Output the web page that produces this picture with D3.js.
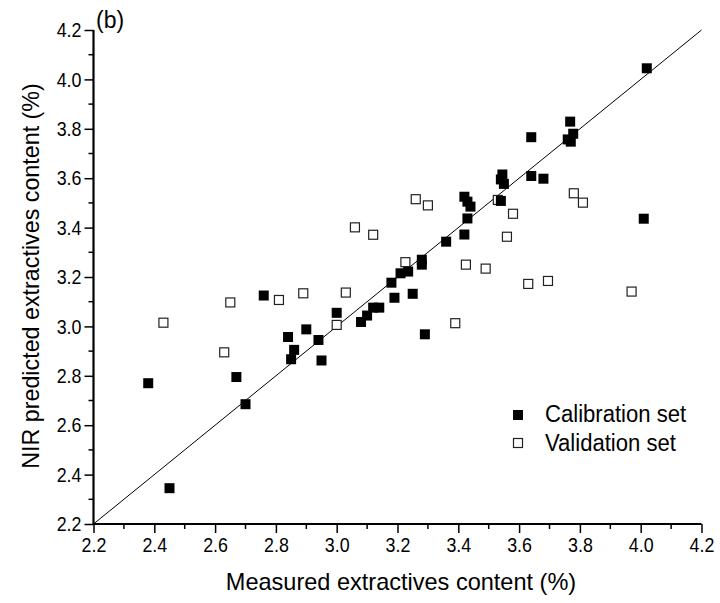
<!DOCTYPE html>
<html><head><meta charset="utf-8">
<script src="https://cdn.jsdelivr.net/npm/d3@7"></script>
<style>
body{margin:0;background:#fff;}
text{font-family:"Liberation Sans",Arial,sans-serif;fill:#000;}
</style></head><body>
<svg id="c" width="720" height="603"></svg>
<script>
const xTicks = [2.2,2.4,2.6,2.8,3.0,3.2,3.4,3.6,3.8,4.0,4.2];
const yTicks = [2.2,2.4,2.6,2.8,3.0,3.2,3.4,3.6,3.8,4.0,4.2];
const calibMeasured = [2.38,2.45,2.67,2.70,2.76,2.84,2.86,2.85,2.90,2.94,2.95,3.00,3.08,3.10,3.12,3.14,3.19,3.18,3.21,3.235,3.25,3.28,3.28,3.29,3.36,3.42,3.43,3.42,3.43,3.44,3.54,3.545,3.54,3.55,3.64,3.64,3.68,3.76,3.77,3.768,3.778,4.02,4.01];
const calibPredicted = [2.77,2.345,2.795,2.685,3.125,2.957,2.905,2.867,2.988,2.945,2.862,3.055,3.018,3.044,3.076,3.076,3.116,3.177,3.215,3.222,3.132,3.27,3.25,2.968,3.343,3.372,3.437,3.525,3.505,3.485,3.508,3.615,3.595,3.577,3.766,3.609,3.598,3.757,3.748,3.829,3.780,4.045,3.436];
const validMeasured = [2.43,2.63,2.65,2.81,2.89,3.00,3.03,3.06,3.12,3.226,3.26,3.30,3.39,3.425,3.49,3.53,3.56,3.58,3.63,3.695,3.78,3.81,3.97];
const validPredicted = [3.015,2.895,3.097,3.107,3.134,3.006,3.137,3.401,3.371,3.260,3.515,3.490,3.013,3.250,3.234,3.512,3.363,3.456,3.172,3.184,3.539,3.501,3.141];
const legendLabels = ["Calibration set","Validation set"];

const svg = d3.select("#c");
const L=93.5, R=701.5, T=30, B=524;
const x = d3.scaleLinear().domain([2.2,4.2]).range([L,R]);
const y = d3.scaleLinear().domain([2.2,4.2]).range([B,T]);

function condense(sel, f){
  sel.each(function(){
    const w = this.getComputedTextLength();
    d3.select(this).attr("textLength", w*f).attr("lengthAdjust","spacingAndGlyphs");
  });
}

const minor = d3.range(2.3,4.2,0.2);
const gx = svg.append("g").attr("transform",`translate(0,${B})`);
gx.selectAll("line.mn").data(minor).enter().append("line")
  .attr("x1",d=>x(d)).attr("x2",d=>x(d)).attr("y1",0).attr("y2",5)
  .attr("stroke","#000").attr("stroke-width",1.5);
gx.call(d3.axisBottom(x).tickValues(xTicks).tickFormat(d3.format(".1f")).tickSize(9).tickPadding(4));
gx.select(".domain").attr("stroke-width",2.2).attr("d",`M${L},0H${R}`);
gx.selectAll(".tick line").attr("stroke-width",1.5);
gx.selectAll(".tick text").style("font-size","21px").style("font-family",null);

const gy = svg.append("g").attr("transform",`translate(${L},0)`);
gy.selectAll("line.mn").data(minor).enter().append("line")
  .attr("y1",d=>y(d)).attr("y2",d=>y(d)).attr("x1",0).attr("x2",-5)
  .attr("stroke","#000").attr("stroke-width",1.5);
gy.call(d3.axisLeft(y).tickValues(yTicks).tickFormat(d3.format(".1f")).tickSize(9).tickPadding(3));
gy.select(".domain").attr("stroke-width",2.2).attr("d",`M0,${B}V${T}`);
gy.selectAll(".tick line").attr("stroke-width",1.5);
gy.selectAll(".tick text").style("font-size","21px").style("font-family",null);
condense(svg.selectAll(".tick text"), 0.85);

svg.append("line").attr("x1",x(2.2)).attr("y1",y(2.2)).attr("x2",x(4.2)).attr("y2",y(4.2))
  .attr("stroke","#000").attr("stroke-width",1);

const s=10;
svg.append("g").selectAll("rect").data(validMeasured.map((v,i)=>[v,validPredicted[i]])).enter().append("rect")
  .attr("x",d=>x(d[0])-s/2+0.5).attr("y",d=>y(d[1])-s/2+0.5).attr("width",s-1).attr("height",s-1)
  .attr("fill","#fff").attr("stroke","#222").attr("stroke-width",1.2);
svg.append("g").selectAll("rect").data(calibMeasured.map((v,i)=>[v,calibPredicted[i]])).enter().append("rect")
  .attr("x",d=>x(d[0])-s/2).attr("y",d=>y(d[1])-s/2).attr("width",s).attr("height",s)
  .attr("fill","#000");

const lg = svg.append("g");
lg.append("rect").attr("x",513).attr("y",410).attr("width",10).attr("height",10).attr("fill","#000");
lg.append("rect").attr("x",513.5).attr("y",438.5).attr("width",9).attr("height",9).attr("fill","#fff").attr("stroke","#222").attr("stroke-width",1.2);
lg.append("text").attr("x",545).attr("y",422).style("font-size","23px").text(legendLabels[0]);
lg.append("text").attr("x",545).attr("y",451).style("font-size","23px").text(legendLabels[1]);
condense(lg.selectAll("text"), 0.96);

const xl = svg.append("text").attr("x",401).attr("y",590).attr("text-anchor","middle").style("font-size","24px")
  .text("Measured extractives content (%)");
const yl = svg.append("text").attr("transform","translate(39,276) rotate(-90)").attr("text-anchor","middle").style("font-size","24px")
  .text("NIR predicted extractives content (%)");
condense(xl, 0.98); condense(yl, 0.97);
svg.append("text").attr("x",96).attr("y",28).style("font-size","23px").text("(b)");
</script></body></html>
